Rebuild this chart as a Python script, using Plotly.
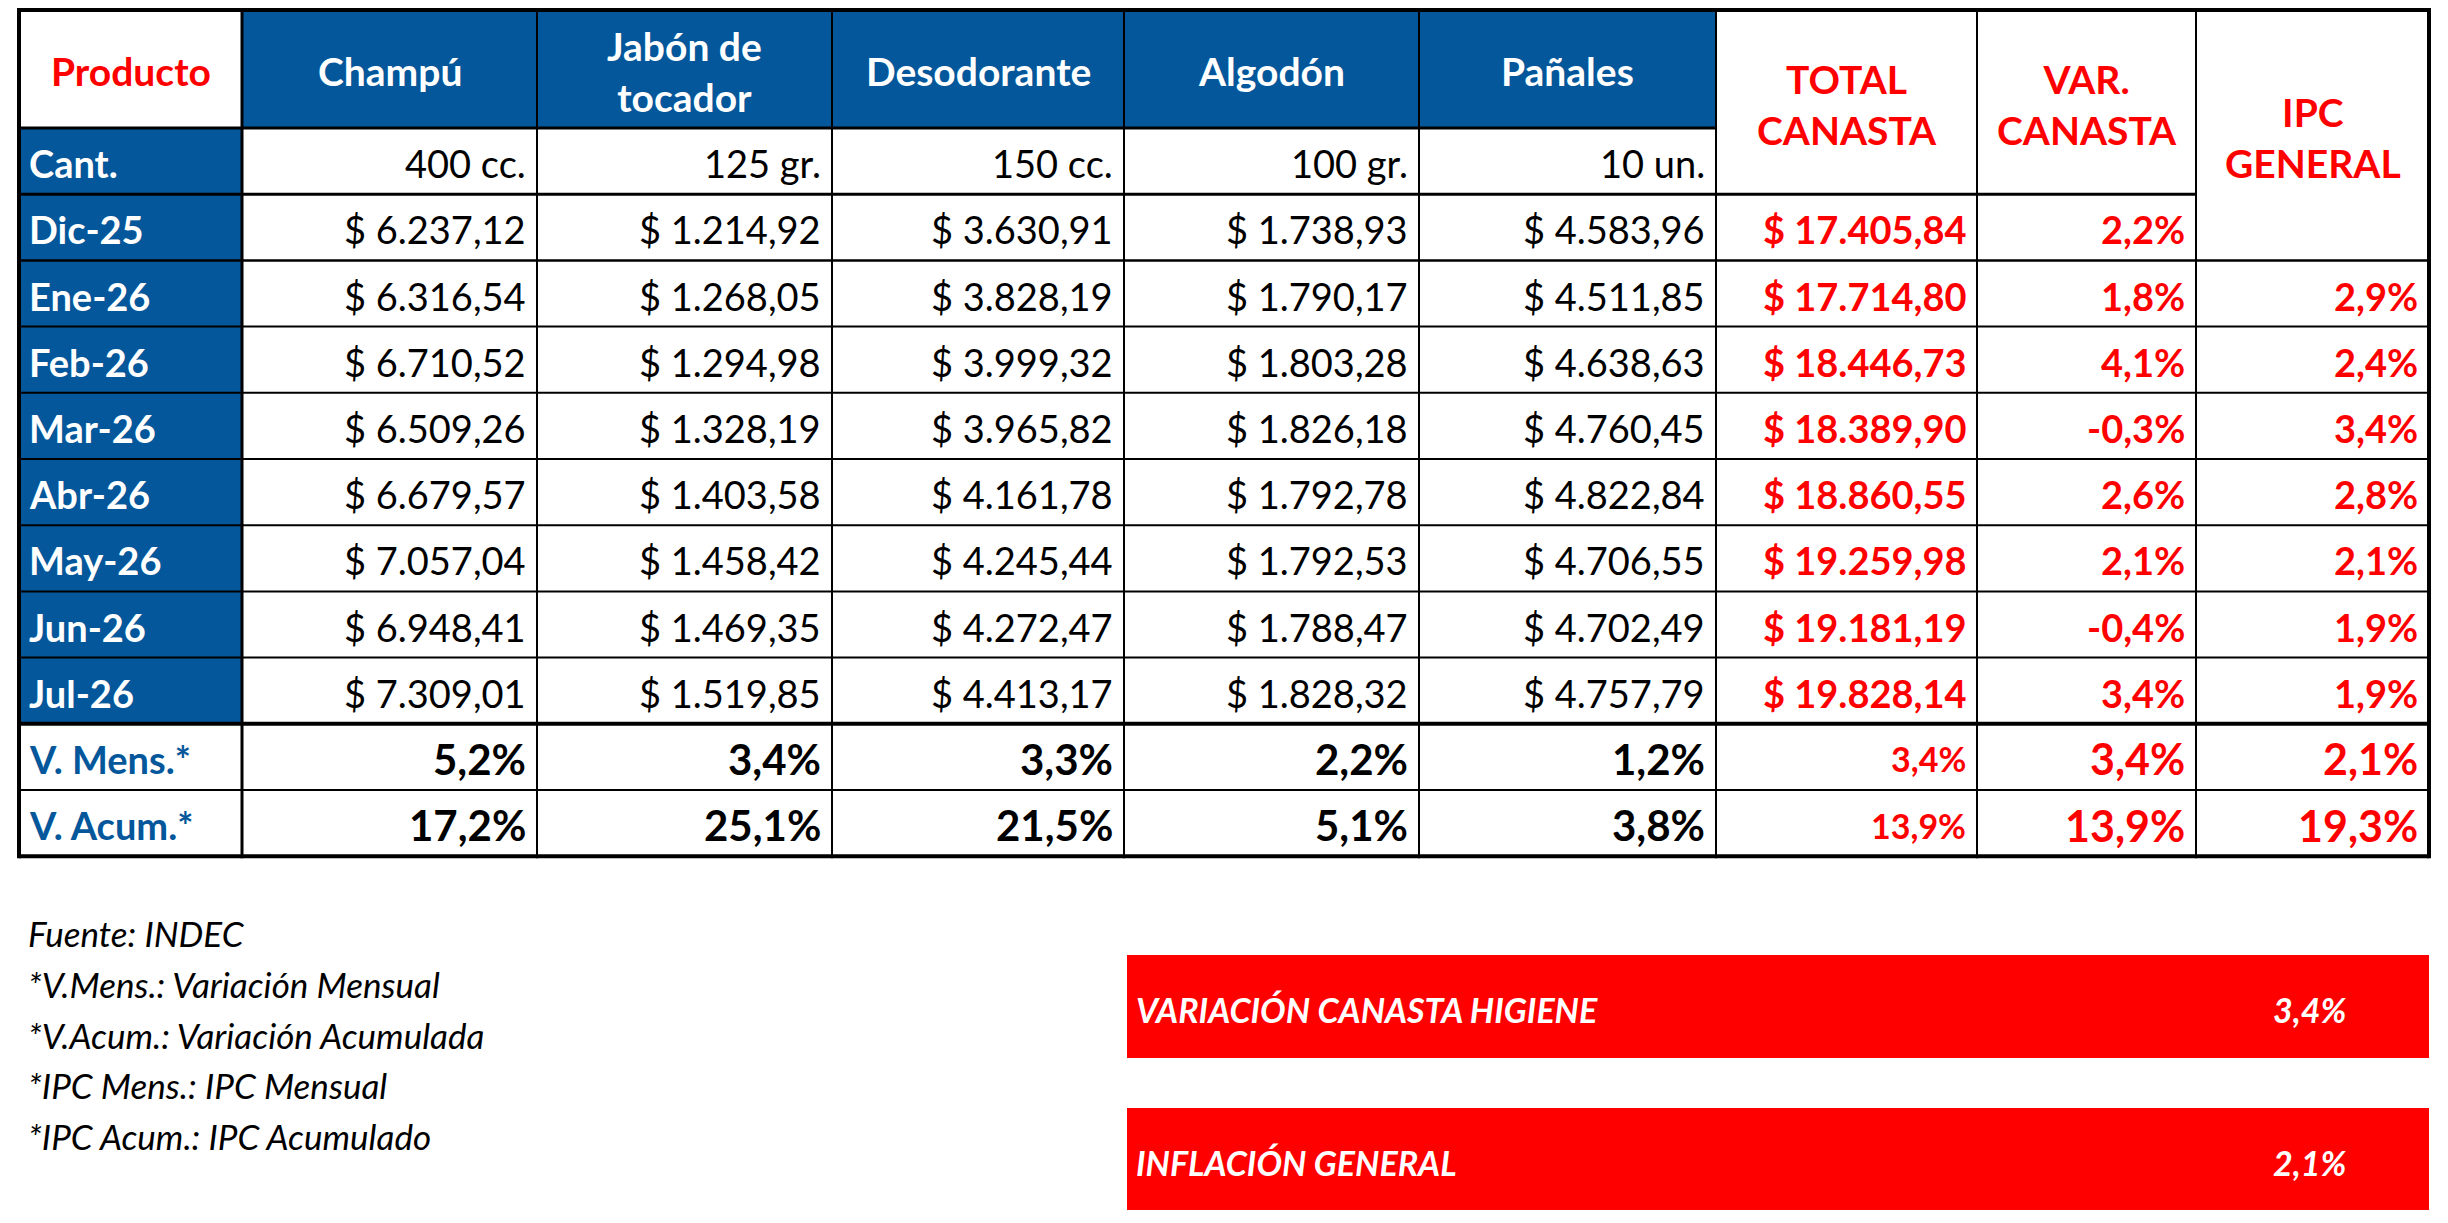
import plotly.graph_objects as go

# ---Datos
productos = ["Champú", "Jabón de<br>tocador", "Desodorante", "Algodón", "Pañales"]
cantidades = ["400 cc.", "125 gr.", "150 cc.", "100 gr.", "10 un."]
meses = ["Dic-25", "Ene-26", "Feb-26", "Mar-26", "Abr-26", "May-26", "Jun-26", "Jul-26"]

champu = [6237.12, 6316.54, 6710.52, 6509.26, 6679.57, 7057.04, 6948.41, 7309.01]
jabon = [1214.92, 1268.05, 1294.98, 1328.19, 1403.58, 1458.42, 1469.35, 1519.85]
desodorante = [3630.91, 3828.19, 3999.32, 3965.82, 4161.78, 4245.44, 4272.47, 4413.17]
algodon = [1738.93, 1790.17, 1803.28, 1826.18, 1792.78, 1792.53, 1788.47, 1828.32]
panales = [4583.96, 4511.85, 4638.63, 4760.45, 4822.84, 4706.55, 4702.49, 4757.79]

total_canasta = [17405.84, 17714.80, 18446.73, 18389.90, 18860.55, 19259.98, 19181.19, 19828.14]
var_canasta = [2.2, 1.8, 4.1, -0.3, 2.6, 2.1, -0.4, 3.4]
ipc_general = [None, 2.9, 2.4, 3.4, 2.8, 2.1, 1.9, 1.9]

var_mensual = [5.2, 3.4, 3.3, 2.2, 1.2]
var_acumulada = [17.2, 25.1, 21.5, 5.1, 3.8]
mens_total, mens_var, mens_ipc = 3.4, 3.4, 2.1
acum_total, acum_var, acum_ipc = 13.9, 13.9, 19.3

notas = ["Fuente: INDEC", "*V.Mens.: Variación Mensual", "*V.Acum.: Variación Acumulada",
         "*IPC Mens.: IPC Mensual", "*IPC Acum.: IPC Acumulado"]
recuadros = ["VARIACIÓN CANASTA HIGIENE", "INFLACIÓN GENERAL"]
recuadros_valor = [3.4, 2.1]

# ---Estilo / geometría (px de la página)
W, H = 2448, 1223
PAD = 8  # margen del <body> de la página
FONT = "Lato, 'Open Sans', sans-serif"
AZUL = "#04579B"
ROJO = "#FF0000"
col_x = [19, 242, 537, 832, 1124, 1419, 1716, 1977, 2196, 2429]
top, head_bot, row_h = 10, 128, 66.2
row_y = [top, head_bot] + [head_bot + row_h * i for i in range(1, 12)]  # bordes de filas


def pesos(v):
    s = f"{v:,.2f}".replace(",", "X").replace(".", ",").replace("X", ".")
    return "$ " + s


def pct(v):
    return f"{v:.1f}%".replace(".", ",")


def yc(r0, r1=None):
    r1 = r0 if r1 is None else r1
    return (row_y[r0] + row_y[r1 + 1]) / 2 + 2


annots = []


def txt(col, y, text, color="black", size=38, bold=False, align="right", italic=False, x=None):
    if bold:
        text = "<b>" + text + "</b>"
    if italic:
        text = "<i>" + text + "</i>"
    if x is None:
        if align == "right":
            x = col_x[col + 1] - 9
        elif align == "left":
            x = col_x[col] + 8
        else:
            x = (col_x[col] + col_x[col + 1]) / 2
    annots.append(dict(x=x, y=y, xref="x", yref="y", text=text, showarrow=False,
                       xanchor=align, yanchor="middle", align=align,
                       font=dict(family=FONT, size=size, color=color)))


shapes = []


def rect(x0, y0, x1, y1, color):
    shapes.append(dict(type="rect", x0=x0, y0=y0, x1=x1, y1=y1, xref="x", yref="y",
                       fillcolor=color, line=dict(width=0), layer="below"))


def line(x0, y0, x1, y1, w):
    shapes.append(dict(type="line", x0=x0, y0=y0, x1=x1, y1=y1, xref="x", yref="y",
                       line=dict(color="black", width=w)))


# fondos azules
rect(col_x[1], row_y[0], col_x[6], row_y[1], AZUL)
rect(col_x[0], row_y[1], col_x[1], row_y[10], AZUL)

# encabezados
txt(0, yc(0), "Producto", ROJO, 39, bold=True, align="center")
for i, p in enumerate(productos):
    txt(i + 1, yc(0), p, "white", 39, bold=True, align="center")
txt(6, yc(0, 1), "TOTAL<br>CANASTA", ROJO, 39, bold=True, align="center")
txt(7, yc(0, 1), "VAR.<br>CANASTA", ROJO, 39, bold=True, align="center")
txt(8, yc(0, 2), "IPC<br>GENERAL", ROJO, 39, bold=True, align="center")

# cantidades
txt(0, yc(1), "Cant.", "white", 38, bold=True, align="left")
for i, c in enumerate(cantidades):
    txt(i + 1, yc(1), c)

# meses
series = [champu, jabon, desodorante, algodon, panales]
for r, m in enumerate(meses):
    y = yc(r + 2)
    txt(0, y, m, "white", 38, bold=True, align="left")
    for i, s in enumerate(series):
        txt(i + 1, y, pesos(s[r]))
    txt(6, y, pesos(total_canasta[r]), ROJO, 38, bold=True)
    txt(7, y, pct(var_canasta[r]), ROJO, 38, bold=True)
    if ipc_general[r] is not None:
        txt(8, y, pct(ipc_general[r]), ROJO, 38, bold=True)

# variaciones
for r, (lab, vals, vt, vv, vi) in enumerate([
        ("V. Mens.*", var_mensual, mens_total, mens_var, mens_ipc),
        ("V. Acum.*", var_acumulada, acum_total, acum_var, acum_ipc)]):
    y = yc(r + 10)
    txt(0, y, lab, AZUL, 38, bold=True, align="left")
    for i, v in enumerate(vals):
        txt(i + 1, y, pct(v), "black", 42, bold=True)
    txt(6, y, pct(vt), ROJO, 34, bold=True)
    txt(7, y, pct(vv), ROJO, 43, bold=True)
    txt(8, y, pct(vi), ROJO, 43, bold=True)

# bordes
line(col_x[0], row_y[0], col_x[-1], row_y[0], 4)
line(col_x[0], row_y[1], col_x[6], row_y[1], 3)
line(col_x[0], row_y[2], col_x[8], row_y[2], 3)
line(col_x[0], row_y[3], col_x[-1], row_y[3], 2.5)
for r in range(4, 10):
    line(col_x[0], row_y[r], col_x[-1], row_y[r], 2)
line(col_x[0], row_y[10], col_x[-1], row_y[10], 4)
line(col_x[0], row_y[11], col_x[-1], row_y[11], 2)
line(col_x[0], row_y[12], col_x[-1], row_y[12], 4)
for i, x in enumerate(col_x):
    w = 4 if i in (0, len(col_x) - 1) else (3 if i == 1 else 2)
    line(x, row_y[0] - 2, x, row_y[12] + 2, w)

# notas
for i, n in enumerate(notas):
    txt(0, 933 + i * 50.8, n, "black", 35, italic=True, align="left", x=26)

# recuadros rojos
box_y = [(955, 1058), (1108, 1210)]
for (y0, y1), lab, v in zip(box_y, recuadros, recuadros_valor):
    rect(1127, y0, 2429, y1, ROJO)
    ym = (y0 + y1) / 2 + 3
    txt(0, ym, lab, "white", 34, bold=True, italic=True, align="left", x=1134)
    txt(0, ym, pct(v), "white", 34, bold=True, italic=True, align="right", x=2348)

fig = go.Figure()
fig.add_trace(go.Scatter(x=[PAD, W - PAD], y=[PAD, H - PAD], mode="markers",
                         marker=dict(opacity=0), hoverinfo="skip", showlegend=False))
fig.update_layout(width=W - 2 * PAD, height=H - 2 * PAD, margin=dict(l=0, r=0, t=0, b=0),
                  paper_bgcolor="white", plot_bgcolor="white",
                  xaxis=dict(range=[PAD, W - PAD], visible=False, fixedrange=True),
                  yaxis=dict(range=[H - PAD, PAD], visible=False, fixedrange=True),
                  shapes=shapes, annotations=annots, showlegend=False)
fig.write_html("out.html", config={"displayModeBar": False})
